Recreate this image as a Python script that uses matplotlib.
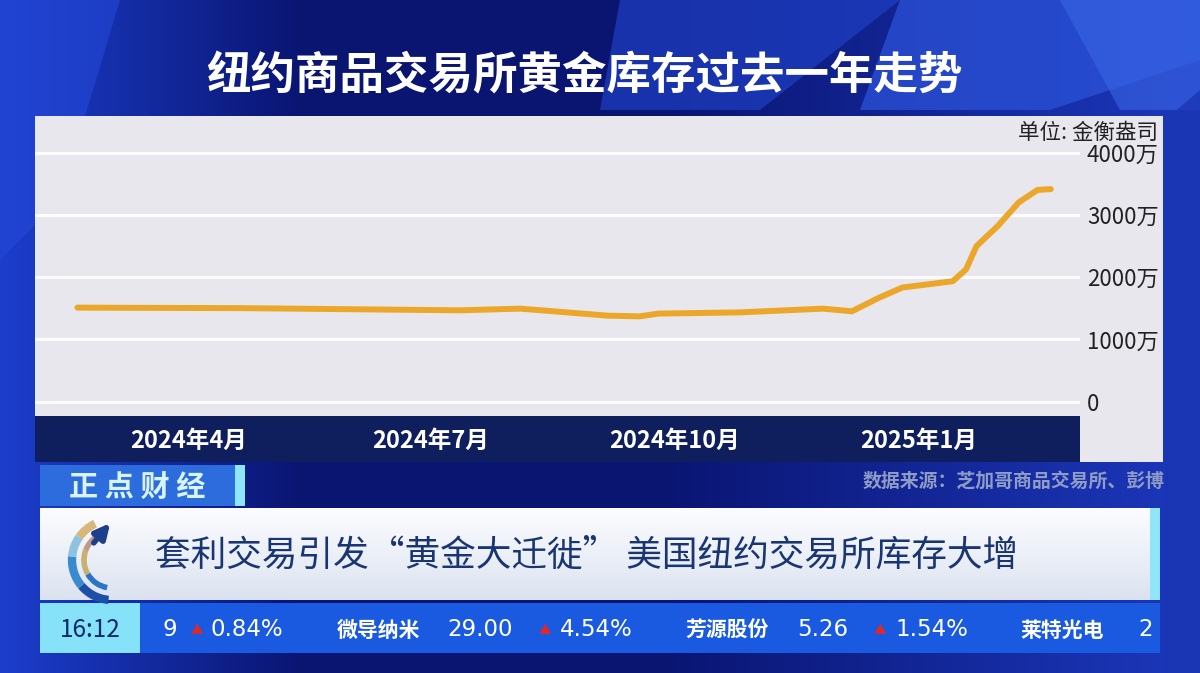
import numpy as np
import pandas as pd
import matplotlib
matplotlib.use("Agg")
import matplotlib.pyplot as plt
from matplotlib.patches import Rectangle, Polygon, Arc
from matplotlib.ticker import FuncFormatter

plt.rcParams['font.family'] = ['Noto Sans CJK SC', 'DejaVu Sans']

# 纽约商品交易所黄金库存（万金衡盎司）
dates = ['2024-02-19', '2024-04-21', '2024-07-12', '2024-08-04', '2024-09-06',
         '2024-09-18', '2024-09-25', '2024-10-26', '2024-11-26', '2024-12-07',
         '2024-12-17', '2024-12-26', '2025-01-04', '2025-01-14', '2025-01-19',
         '2025-01-23', '2025-01-31', '2025-02-08', '2025-02-15', '2025-02-20']
stock = [1511, 1503, 1468, 1495, 1382,
         1371, 1415, 1435, 1495, 1452,
         1666, 1834, 1882, 1935, 2124,
         2500, 2823, 3205, 3403, 3415]

y_ticks = [0, 1000, 2000, 3000, 4000]
x_ticks = ['2024-04-01', '2024-07-01', '2024-10-01', '2025-01-01']
x_labels = ['2024年4月', '2024年7月', '2024年10月', '2025年1月']

title = '纽约商品交易所黄金库存过去一年走势'
unit = '单位: 金衡盎司'
source = '数据来源：芝加哥商品交易所、彭博'
headline = '套利交易引发“黄金大迁徙” 美国纽约交易所库存大增'
ticker_num = [('9', 162), ('0.84%', 210), ('29.00', 447), ('4.54%', 560),
              ('5.26', 797), ('1.54%', 895), ('2', 1138)]
ticker_name = [('微导纳米', 337), ('芳源股份', 685), ('莱特光电', 1020)]
up_marks = [197, 545, 880]

W, H = 1200, 673
fig = plt.figure(figsize=(W / 100, H / 100), dpi=100)

# ---- 背景层（像素坐标） ----
bg = fig.add_axes([0, 0, 1, 1])
bg.set_axis_off()

xs = np.linspace(0, 1, W)
c_left = np.array([0x1c, 0x3e, 0xcc]) / 255
c_mid = np.array([0x0a, 0x15, 0x72]) / 255
c_right = np.array([0x1c, 0x38, 0xbc]) / 255
w1 = np.clip(xs / 0.25, 0, 1)
w2 = np.clip((xs - 0.55) / 0.45, 0, 1)
row = (1 - w1)[:, None] * c_left + w1[:, None] * c_mid
row = (1 - w2)[:, None] * row + w2[:, None] * c_right
img = np.repeat(row[None, :, :], H, axis=0)
bg.imshow(img, extent=(0, W, H, 0), aspect='auto', zorder=0)

for pts, col, a in [
    ([(620, 0), (900, 0), (760, 110), (600, 110)], '#1f3fc4', 0.7),
    ([(900, 0), (1200, 0), (1200, 60), (1050, 110), (860, 110)], '#2b52d8', 0.75),
    ([(1060, 0), (1200, 0), (1200, 110), (1120, 110)], '#3a66e6', 0.6),
    ([(0, 0), (120, 0), (60, 200), (0, 260)], '#2448d8', 0.6),
    ([(1165, 120), (1200, 90), (1200, 673), (1165, 673)], '#1a36b4', 0.8),
]:
    bg.add_patch(Polygon(pts, closed=True, fc=col, ec='none', alpha=a, zorder=1))

# 图表面板
bg.add_patch(Rectangle((35, 116), 1128, 300, fc='#e9e7ee', ec='none', zorder=2))
bg.add_patch(Rectangle((1080, 416), 83, 46, fc='#e9e7ee', ec='none', zorder=2))
bg.add_patch(Rectangle((35, 416), 1045, 46, fc='#0f1f5e', ec='none', zorder=2))

bg.text(584, 76, title, color='white', fontsize=32, fontweight='bold',
        ha='center', va='center', zorder=3)

# 正点财经
bg.add_patch(Rectangle((40, 465), 195, 41, fc='#2d6cdc', ec='none', zorder=2))
bg.add_patch(Rectangle((235, 465), 10, 41, fc='#8fe6fb', ec='none', zorder=2))
bg.text(137, 487, '正 点 财 经', color='#d8f5ff', fontsize=21, fontweight='bold',
        ha='center', va='center', zorder=3)
bg.text(1165, 482, source, color='#8e9cc6', fontsize=13.6, fontweight='bold',
        ha='right', va='center', zorder=3)

# 标题横幅
grad = np.linspace(0, 1, 100)[:, None, None]
top_c = np.array([0.99, 0.99, 1.0])
bot_c = np.array([0.86, 0.89, 0.94])
band = (1 - grad) * top_c + grad * bot_c
band = np.repeat(band, 2, axis=1)
bg.imshow(band, extent=(40, 1150, 600, 508), aspect='auto', zorder=2)
bg.add_patch(Rectangle((1150, 508), 10, 92, fc='#8fe6fb', ec='none', zorder=2))
bg.text(155, 556, headline, color='#1a3672', fontsize=25.7, ha='left', va='center', zorder=3)

# 标志
for t1, t2, col in [(95, 140, '#1d4fa8'), (140, 185, '#3a8ad0'),
                    (185, 215, '#8ec2e0'), (215, 245, '#d8b878')]:
    bg.add_patch(Arc((112, 560), 80, 80, theta1=t1, theta2=t2, color=col,
                     lw=6, zorder=3))
for t1, t2, col in [(100, 150, '#2c74c4'), (150, 200, '#c8b070'), (200, 235, '#c09a88')]:
    bg.add_patch(Arc((112, 560), 56, 56, theta1=t1, theta2=t2, color=col,
                     lw=4, zorder=3))
bg.annotate('', xy=(112, 521), xytext=(92, 545),
            arrowprops=dict(arrowstyle='-|>', color='#1d3f8c', lw=4,
                            mutation_scale=22), zorder=4)

# 行情条
bg.add_patch(Rectangle((40, 603), 1120, 50, fc='#1a5ae0', ec='none', zorder=2))
bg.add_patch(Rectangle((40, 603), 100, 50, fc='#86e2f8', ec='none', zorder=2))
bg.text(90, 630, '16:12', color='#10296a', fontsize=17.5, ha='center', va='center', zorder=3)
for txt, x in ticker_num:
    bg.text(x, 630, txt, color='white', fontsize=16.5, ha='left', va='center',
            family=['DejaVu Sans'], zorder=3)
for txt, x in ticker_name:
    bg.text(x, 630, txt, color='white', fontsize=15, fontweight='bold',
            ha='left', va='center', zorder=3)
for x in up_marks:
    bg.text(x, 631, '▲', color='#e02828', fontsize=9, ha='center', va='center', zorder=3)

bg.set_xlim(0, W)
bg.set_ylim(H, 0)

# ---- 折线图 ----
ax = fig.add_axes([35 / W, 1 - 416 / H, 1045 / W, 300 / H])
ax.patch.set_visible(False)
x = pd.to_datetime(dates)
ax.plot(x, stock, color='#eba72a', lw=4.3, solid_capstyle='round', zorder=3)

ax.set_xlim(pd.Timestamp('2024-02-03'), pd.Timestamp('2025-03-03'))
ax.set_ylim(-230, 4590)
ax.set_yticks(y_ticks)
ax.yaxis.tick_right()
ax.yaxis.set_major_formatter(FuncFormatter(lambda v, p: '0' if v == 0 else f'{int(v)}万'))
ax.tick_params(axis='y', length=0, pad=5, labelsize=16, labelcolor='#222222')
for lab in ax.get_yticklabels():
    lab.set_horizontalalignment('left')
    lab.set_fontweight('medium')

ax.set_xticks(pd.to_datetime(x_ticks))
ax.set_xticklabels(x_labels)
ax.tick_params(axis='x', length=0, pad=9, labelsize=17, labelcolor='white')
for lab in ax.get_xticklabels():
    lab.set_fontweight('bold')

ax.grid(axis='y', color='white', lw=2.2, alpha=0.9)
ax.grid(axis='x', visible=False)
for s in ax.spines.values():
    s.set_visible(False)

fig.text(1158 / W, 1 - 133 / H, unit, color='#222222', fontsize=15.5,
         ha='right', va='center', zorder=5)

fig.savefig('out.png', dpi=100)
